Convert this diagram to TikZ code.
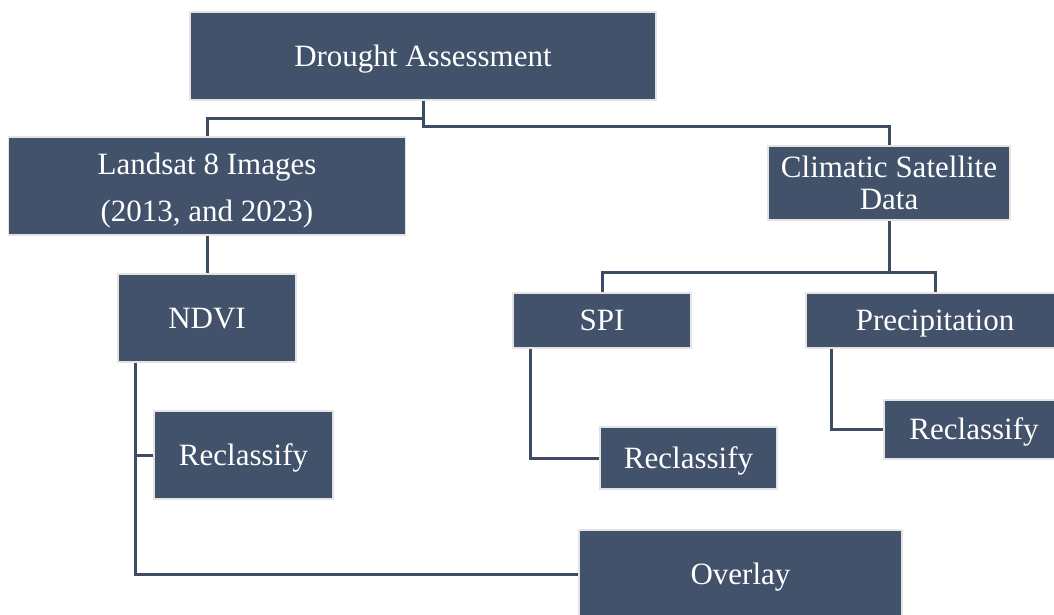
\documentclass[tikz,border=0pt]{standalone}
\usepackage{fontspec}
\setmainfont{Liberation Serif}
\definecolor{boxc}{HTML}{42526B}
\definecolor{linec}{HTML}{3E4C63}
\definecolor{edgec}{HTML}{E4E4E4}
\begin{document}
\begin{tikzpicture}[x=1pt,y=-1pt,
  box/.style={rectangle, fill=boxc, draw=edgec, line width=1.5pt, text=white, align=center,
    inner sep=0pt, font=\fontsize{31}{34}\selectfont},
  onebox/.style={box, text height=20.5pt, text depth=0pt},
  conn/.style={draw=linec, line width=3pt}]
\clip (0,0) rectangle (1054,614);
\node[onebox, minimum width=466pt, minimum height=88pt] (da) at (423,56) {Drought Assessment};
\node[box, minimum width=397pt, minimum height=98pt] (land) at (207,186) {\rule{0pt}{31pt}Landsat 8 Images\\[13pt](2013, and 2023)};
\node[box, minimum width=242pt, minimum height=74pt] (clim) at (889,183) {Climatic Satellite\\[-2pt]Data};
\node[onebox, minimum width=178pt, minimum height=88pt] (ndvi) at (207,318) {NDVI};
\node[onebox, minimum width=179pt, minimum height=88pt] (rc1) at (243.5,455) {Reclassify};
\node[onebox, minimum width=178pt, minimum height=55pt] (spi) at (602,320.5) {SPI};
\node[onebox, minimum width=258pt, minimum height=55pt] (prec) at (935,320.5) {Precipitation};
\node[onebox, minimum width=177pt, minimum height=62pt] (rc2) at (688.5,458) {Reclassify};
\node[onebox, minimum width=180pt, minimum height=59pt] (rc3) at (974,429.5) {Reclassify};
\node[onebox, minimum width=323pt, minimum height=88pt] (ovl) at (740.5,574) {Overlay};
% connectors
\draw[conn] (da.south) |- (0,126 -| clim.north) -- (clim.north);
\draw[conn] (da.south |- 0,118) -| (land.north);
\draw[conn] (land.south) -- (land.south |- ndvi.north);
\draw[conn] (ndvi.south -| 135,0) |- (ovl.west);
\draw[conn] (rc1.west) -- (rc1.west -| 135,0);
\draw[conn] (clim.south) -- (clim.south |- 0,272);
\draw[conn] (spi.north) |- (0,272 -| prec.north) -- (prec.north);
\draw[conn] (spi.south -| 530,0) |- (rc2.west);
\draw[conn] (prec.south -| 831,0) |- (rc3.west);
\end{tikzpicture}
\end{document}
